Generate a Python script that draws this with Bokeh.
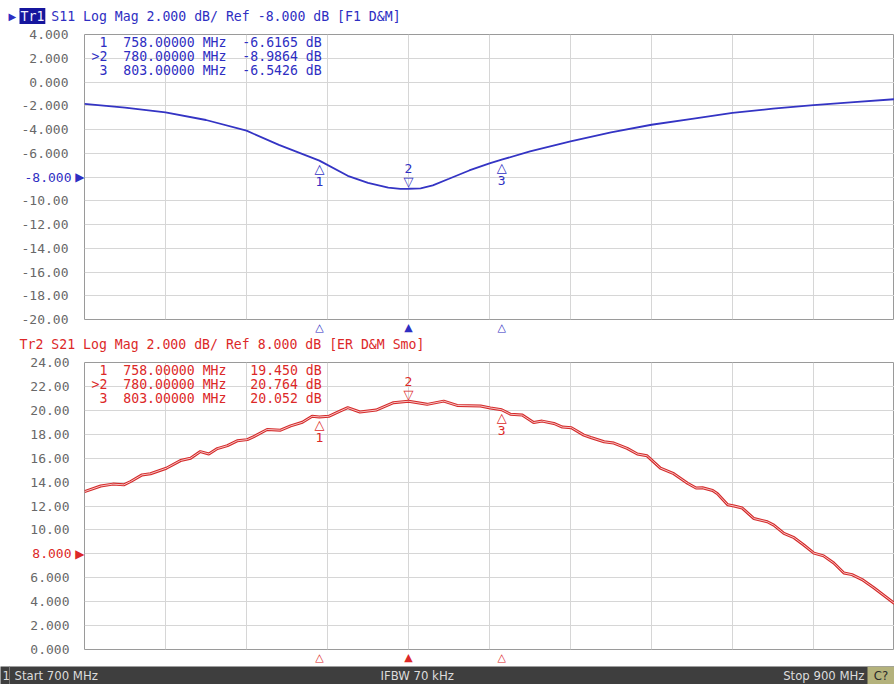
import math
from bokeh.plotting import figure
from bokeh.layouts import column
from bokeh.models import (Range1d, FixedTicker, Label, Span, BoxAnnotation,
                          ColumnDataSource, LinearAxis)
from bokeh.core.properties import value
from bokeh.embed import file_html
from bokeh.resources import INLINE

# ---------------- data ----------------
s11_freq = [700, 710, 720, 730, 740, 748, 758, 765, 770, 775, 778, 780, 783, 786,
            790, 795, 800, 803, 810, 820, 830, 840, 850, 860, 870, 880, 890, 900]
s11_db = [-1.85, -2.15, -2.55, -3.2, -4.1, -5.3, -6.62, -7.9, -8.5, -8.9, -9.0, -8.99,
          -8.95, -8.7, -8.15, -7.45, -6.85, -6.54, -5.85, -5.0, -4.25, -3.6, -3.1,
          -2.6, -2.25, -1.95, -1.7, -1.45]

s21_freq = [700, 704, 707, 709.7, 711.4, 714.2, 716.3, 720.2, 723.7, 726.2, 728.6,
            730.7, 732.8, 735.3, 737.7, 740.2, 741.8, 745.1, 748.4, 750.9, 753.8,
            756.2, 758, 760.3, 763.2, 765, 768, 772, 776.3, 780, 784.6, 788.7, 792,
            797.8, 800.2, 803, 805.2, 808.1, 810.9, 813, 815.9, 818, 820.2, 823.3,
            825, 828.3, 830.7, 834, 836.5, 838.9, 842.2, 845.5, 848.9, 851, 852.6,
            855.1, 856.3, 858.8, 860.4, 862.4, 865.3, 868.6, 870.2, 872.7, 875.2,
            877.6, 880.1, 882.5, 885, 887.5, 889.5, 892, 894.9, 900]
s21_db = [13.2, 13.67, 13.83, 13.77, 14.05, 14.6, 14.7, 15.16, 15.8, 16.0, 16.55,
          16.35, 16.8, 17.05, 17.45, 17.55, 17.8, 18.4, 18.34, 18.7, 19.0,
          19.5, 19.45, 19.5, 19.95, 20.22, 19.86, 20.02, 20.64, 20.76, 20.5, 20.77,
          20.41, 20.36, 20.2, 20.05, 19.67, 19.6, 18.98, 19.1, 18.9, 18.6, 18.55,
          17.93, 17.73, 17.37, 17.26, 16.82, 16.35, 16.2, 15.17, 14.7, 13.9, 13.5,
          13.52, 13.3, 13.02, 12.11, 12.0, 11.83, 10.95, 10.68, 10.4, 9.71, 9.35,
          8.74, 8.06, 7.83, 7.23, 6.4, 6.26, 5.85, 5.16, 3.85]

marker_ids = ["1", "2", "3"]
marker_freq = [758, 780, 803]
active_marker = "2"
s11_marker_db = [-6.6165, -8.9864, -6.5426]
s21_marker_db = [19.450, 20.764, 20.052]
s11_marker_txt = ["-6.6165", "-8.9864", "-6.5426"]
s21_marker_txt = ["19.450", "20.764", "20.052"]
marker_freq_txt = ["758.00000", "780.00000", "803.00000"]

s11_ticks = [4, 2, 0, -2, -4, -6, -8, -10, -12, -14, -16, -18, -20]
s11_tick_labels = ["4.000", "2.000", "0.000", "-2.000", "-4.000", "-6.000", "-8.000",
                   "-10.00", "-12.00", "-14.00", "-16.00", "-18.00", "-20.00"]
s21_ticks = [24, 22, 20, 18, 16, 14, 12, 10, 8, 6, 4, 2, 0]
s21_tick_labels = ["24.00", "22.00", "20.00", "18.00", "16.00", "14.00", "12.00",
                   "10.00", "8.000", "6.000", "4.000", "2.000", "0.000"]
s11_ref = -8
s21_ref = 8
s11_ref_txt = "-8.000"
s21_ref_txt = "8.000"
freq_grid = [700, 720, 740, 760, 780, 800, 820, 840, 860, 880, 900]

s11_header = "Tr1 S11 Log Mag 2.000 dB/ Ref -8.000 dB [F1 D&M]"
s21_header = "Tr2 S21 Log Mag 2.000 dB/ Ref 8.000 dB [ER D&M Smo]"
footer_items = ["1", "Start 700 MHz", "IFBW 70 kHz", "Stop 900 MHz", "C?"]

MONO = "DejaVu Sans Mono"
SYM = "DejaVu Sans"
BLUE = "#2e2ec2"
BLUE_TRACE = "#3434c4"
RED = "#dc2828"
RED_TRACE = "#d42a2a"
GRAY_TXT = "#686868"
GRID = "#d6d6d6"
W = 894
NB = "\u00a0"
TICK_PX = 13
CHAR_W = 0.6021 * TICK_PX   # advance width of DejaVu Sans Mono
HAS_PAD = "padding" in Label.properties()


def bare_axis(ax):
    ax.axis_line_color = None
    ax.major_tick_line_color = None
    ax.minor_tick_line_color = None
    ax.major_tick_out = 0
    ax.major_tick_in = 0
    ax.minor_tick_out = 0
    ax.minor_tick_in = 0
    return ax


def strip(height, bg):
    s = figure(width=W, height=height, x_range=Range1d(0, W), y_range=Range1d(0, height),
               output_backend="svg", toolbar_location=None, x_axis_location=None,
               y_axis_location=None, min_border=0, background_fill_color=bg,
               border_fill_color=bg, outline_line_color=None, frame_align=False)
    s.grid.visible = False
    return s


def header_strip(text, color, height, ycen, active):
    h = strip(height, "white")
    y = height - ycen
    h.add_layout(Label(x=19, y=y, text=text.replace(" ", NB), text_font=MONO,
                       text_font_size="13.2px", text_color=color, text_align="left",
                       text_baseline="middle"))
    if active:
        hl = Label(x=19, y=y, text=text[:3], text_font=MONO,
                   text_font_size="13.2px", text_color="#f0f0ff",
                   background_fill_color="#16169e", text_align="left",
                   text_baseline="middle")
        if HAS_PAD:
            hl.padding = 1
        h.add_layout(hl)
        h.add_layout(Label(x=8, y=y, text="▶", text_font=SYM, text_font_size="10px",
                           text_color=color, text_align="left", text_baseline="middle"))
    return h


def panel(freq, db, ticks, tick_labels, ref, ref_txt, mk_db, mk_txt,
          color, trace_color, height, btop, bbot, double):
    lo, hi = min(ticks), max(ticks)
    p = figure(width=W, height=height, x_range=Range1d(700, 900),
               y_range=Range1d(lo, hi), output_backend="svg", toolbar_location=None,
               x_axis_location=None, y_axis_location=None, min_border_left=84,
               min_border_right=0, min_border_top=btop, min_border_bottom=bbot,
               background_fill_color="white", border_fill_color="white",
               outline_line_color="#9a9a9a", outline_line_width=1, frame_align=False)

    # 1) reference-level pointer, nearest the frame
    a_ref = bare_axis(LinearAxis(ticker=FixedTicker(ticks=[ref])))
    a_ref.major_label_overrides = {ref: "▶"}
    a_ref.major_label_text_font = SYM
    a_ref.major_label_text_font_size = "12px"
    a_ref.major_label_text_color = color
    a_ref.major_label_standoff = 0
    p.add_layout(a_ref, "left")

    # 2) reference-level value in the trace colour
    a_rv = bare_axis(LinearAxis(ticker=FixedTicker(ticks=[ref])))
    a_rv.major_label_overrides = {ref: ref_txt}
    a_rv.major_label_text_font = MONO
    a_rv.major_label_text_font_size = f"{TICK_PX}px"
    a_rv.major_label_text_color = color
    a_rv.major_label_standoff = 1
    p.add_layout(a_rv, "left")

    # 3) value axis, pulled back over (2) so all labels share one right edge
    rv_width = math.ceil(len(ref_txt) * CHAR_W + 1)
    ax = bare_axis(LinearAxis(ticker=FixedTicker(ticks=ticks)))
    ov = {t: lab for t, lab in zip(ticks, tick_labels)}
    ov[ref] = ""
    ax.major_label_overrides = ov
    ax.major_label_text_font = MONO
    ax.major_label_text_font_size = f"{TICK_PX}px"
    ax.major_label_text_color = GRAY_TXT
    ax.major_label_standoff = 1 - rv_width
    p.add_layout(ax, "left")

    # marker position indicators below the grid
    bx = bare_axis(LinearAxis(ticker=FixedTicker(ticks=marker_freq)))
    bx.major_label_overrides = {f: ("▲" if m == active_marker else "△")
                                for f, m in zip(marker_freq, marker_ids)}
    bx.major_label_text_font = SYM
    bx.major_label_text_font_size = "11px"
    bx.major_label_text_color = color
    bx.major_label_standoff = 1
    p.add_layout(bx, "below")

    p.xgrid.ticker = FixedTicker(ticks=freq_grid)
    p.ygrid.ticker = FixedTicker(ticks=ticks)
    p.grid.grid_line_color = GRID
    p.grid.grid_line_width = 1

    # trace
    if double:
        p.line(freq, db, line_color=trace_color, line_width=3)
        p.line(freq, db, line_color="#f6c4c4", line_width=1)
    else:
        p.line(freq, db, line_color=trace_color, line_width=1.8)

    # markers on trace
    tri = ["▽" if m == active_marker else "△" for m in marker_ids]
    tri_off = [-7 if m == active_marker else 8 for m in marker_ids]
    num_off = [-20 if m == active_marker else 21 for m in marker_ids]
    src = ColumnDataSource(dict(x=marker_freq, y=mk_db, tri=tri, num=marker_ids,
                                toff=tri_off, noff=num_off))
    p.text(x="x", y="y", text="tri", y_offset="toff", source=src,
           text_font=value(SYM), text_font_size="13px", text_color=color,
           text_align="center", text_baseline="middle")
    p.text(x="x", y="y", text="num", y_offset="noff", source=src,
           text_font=value(MONO), text_font_size="13px", text_color=color,
           text_align="center", text_baseline="middle")

    # marker table
    for i, (m, ft, vt) in enumerate(zip(marker_ids, marker_freq_txt, mk_txt)):
        prefix = ">" if m == active_marker else " "
        row = f"{prefix}{m}  {ft} MHz {vt:>8} dB".replace(" ", NB)
        p.add_layout(Label(x=700, y=hi, x_offset=7, y_offset=-8 - 14 * i, text=row,
                           text_font=MONO, text_font_size="13.2px", text_color=color,
                           text_baseline="middle", text_align="left"))
    return p


h1 = header_strip(s11_header, BLUE, 24, 16, True)
p1 = panel(s11_freq, s11_db, s11_ticks, s11_tick_labels, s11_ref, s11_ref_txt,
           s11_marker_db, s11_marker_txt, BLUE, BLUE_TRACE, 312, 10, 14, False)
h2 = header_strip(s21_header, RED, 16, 8, False)
p2 = panel(s21_freq, s21_db, s21_ticks, s21_tick_labels, s21_ref, s21_ref_txt,
           s21_marker_db, s21_marker_txt, RED, RED_TRACE, 314, 10, 14, True)

# footer status bar
ft = strip(18, "#3e3e3e")
FOOT = "'Liberation Sans Narrow', 'DejaVu Sans Condensed', 'Roboto Condensed', sans-serif"
ft.add_layout(Span(location=9, dimension="height", line_color="#777777", line_width=1))
ft.add_layout(BoxAnnotation(left=867, right=894, fill_color="#b4b27c", fill_alpha=1,
                            line_color=None))
pos = [(2, "left"), (14, "left"), (380, "left"), (864, "right"), (880.5, "center")]
for (x, al), t in zip(pos, footer_items):
    ft.add_layout(Label(x=x, y=9, text=t, text_font=FOOT, text_font_size="13px",
                        text_color="#2a2a2a" if t == "C?" else "#dcdcdc",
                        text_align=al, text_baseline="middle"))

layout = column(h1, p1, h2, p2, ft, spacing=0)
open("out.html", "w").write(file_html(layout, INLINE))
